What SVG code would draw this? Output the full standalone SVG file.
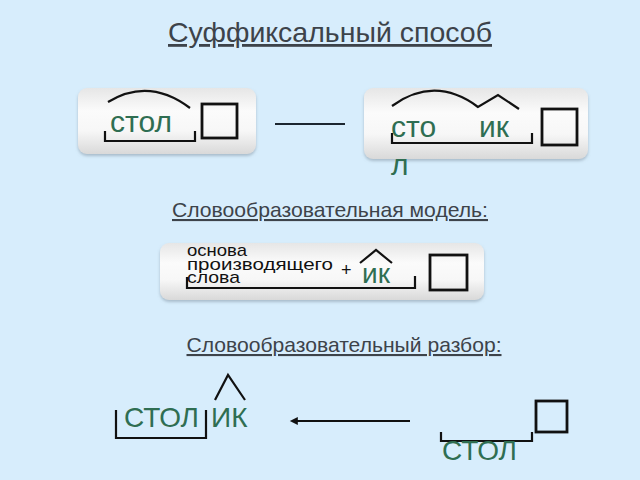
<svg xmlns="http://www.w3.org/2000/svg" width="640" height="480" viewBox="0 0 640 480">
<defs>
<linearGradient id="pg" x1="0" y1="0" x2="0" y2="1">
<stop offset="0" stop-color="#e6e6e6"/>
<stop offset="0.35" stop-color="#fbfbfb"/>
<stop offset="0.65" stop-color="#f7f7f7"/>
<stop offset="1" stop-color="#d9d9d9"/>
</linearGradient>
<filter id="sh" x="-10%" y="-10%" width="120%" height="130%">
<feDropShadow dx="0" dy="2" stdDeviation="1.5" flood-color="#7a8a99" flood-opacity="0.5"/>
</filter>
<marker id="ah" viewBox="0 0 10 10" refX="1" refY="5" markerWidth="10" markerHeight="8" markerUnits="userSpaceOnUse" orient="auto-start-reverse">
<path d="M0,0 L10,5 L0,10 z" fill="#111"/>
</marker>
</defs>
<style>
.panel{fill:url(#pg);filter:url(#sh)}
.ln{fill:none;stroke:#111;stroke-width:2.2;stroke-linejoin:miter}
.sq{fill:none;stroke:#111;stroke-width:2.8}
.g{font-family:"Liberation Sans",Arial,sans-serif;fill:#2f6e52}
.h{font-family:"Liberation Sans",Arial,sans-serif;fill:#3d434a;text-decoration:underline}
.b{font-family:"Liberation Sans",Arial,sans-serif;fill:#111}
</style>
<rect width="640" height="480" fill="#d7edfc"/>
<g id="title"><text x="330" y="42" text-anchor="middle" class="h" font-size="28" textLength="324" lengthAdjust="spacingAndGlyphs">Суффиксальный способ</text></g>
<g id="node-stol">
<rect class="panel" x="78" y="88" width="178" height="66" rx="9"/>
<path class="ln" d="M108,102 Q149,77 190,108"/>
<text x="110" y="132" class="g" font-size="30">стол</text>
<path class="ln" d="M105,131 V141 H195 V131"/>
<rect class="sq" x="202" y="104" width="35" height="34"/>
</g>
<g id="node-stolik">
<rect class="panel" x="364" y="88" width="224" height="71" rx="9"/>
<path class="ln" d="M392,106 Q435,75 478,107 L498,95 L519,109"/>
<text x="391" y="137" class="g" font-size="30">сто</text>
<text x="391" y="175" class="g" font-size="30">л</text>
<text x="479" y="137" class="g" font-size="30">ик</text>
<path class="ln" d="M392,133 V143 H532 V133"/>
<rect class="sq" x="542" y="109" width="35" height="36"/>
</g>
<g id="subtitle-model"><text x="330" y="217" text-anchor="middle" class="h" font-size="21" textLength="316" lengthAdjust="spacingAndGlyphs">Словообразовательная модель:</text></g>
<g id="node-model">
<rect class="panel" x="160" y="243" width="324" height="57" rx="9"/>
<text x="187" y="256" class="b" font-size="17" textLength="60" lengthAdjust="spacingAndGlyphs">основа</text>
<text x="187" y="270" class="b" font-size="17" textLength="146" lengthAdjust="spacingAndGlyphs">производящего</text>
<text x="187" y="283" class="b" font-size="17" textLength="53" lengthAdjust="spacingAndGlyphs">слова</text>
<text x="341" y="276" class="b" font-size="18">+</text>
<path class="ln" d="M360,263 L376,250 L392,263"/>
<text x="362" y="283" class="g" font-size="28">ик</text>
<path class="ln" d="M187,277 V288 H415 V276"/>
<rect class="sq" x="430" y="255" width="37" height="35"/>
</g>
<g id="subtitle-parse"><text x="344" y="352" text-anchor="middle" class="h" font-size="21" textLength="315" lengthAdjust="spacingAndGlyphs">Словообразовательный разбор:</text></g>
<g id="node-stolik-parse">
<text x="124" y="427" class="g" font-size="28">СТОЛ</text>
<text x="211" y="427" class="g" font-size="28">ИК</text>
<path class="ln" d="M116,410 V438 H206 V410"/>
<path class="ln" d="M215,400 L228,375 L245,400"/>
</g>
<g id="node-stol-parse">
<path class="ln" d="M441,432 V441 H532 V432"/>
<text x="442" y="460" class="g" font-size="28">СТОЛ</text>
<rect class="sq" x="536" y="401" width="31" height="31"/>
</g>
<g id="connectors">
<line x1="275" y1="124" x2="345" y2="124" stroke="#1c2630" stroke-width="2.2"/>
<line x1="410" y1="421" x2="297" y2="421" stroke="#111" stroke-width="2" marker-end="url(#ah)"/>
</g>
</svg>
